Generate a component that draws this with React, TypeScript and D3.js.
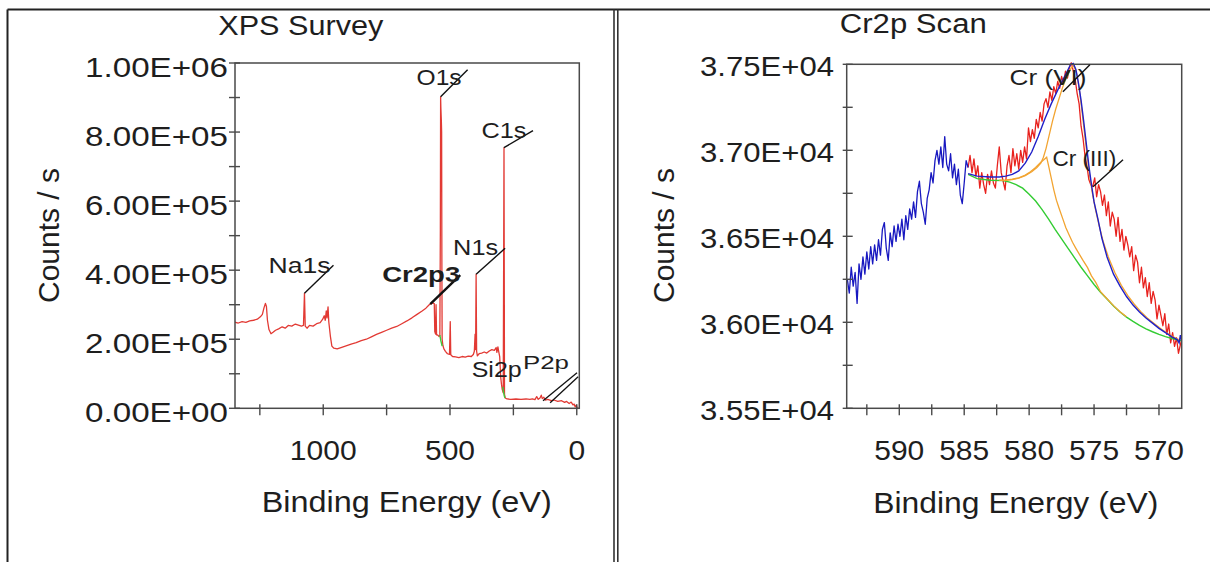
import React from 'react';
import * as d3 from 'd3';

// ---------------- DATA ----------------
// Survey spectrum: [binding energy (eV), counts/s]
const surveySpectrum: [number, number][] = [
  [1352, 250000], [1335, 247000], [1320, 251000], [1305, 249000], [1290, 253000], [1275, 255000],
  [1260, 258000], [1248, 265000], [1240, 272000], [1234, 290000], [1228, 304000], [1224, 295000],
  [1220, 255000], [1214, 228000], [1206, 216000], [1198, 220000], [1188, 226000], [1176, 230000],
  [1162, 236000], [1150, 232000], [1138, 240000], [1124, 238000], [1110, 244000], [1098, 241000],
  [1086, 238000], [1078, 240000], [1074, 333000], [1071, 238000], [1064, 232000], [1054, 240000],
  [1040, 238000], [1026, 245000], [1012, 248000], [1002, 258000], [996, 268000], [992, 255000],
  [988, 282000], [985, 262000], [981, 294000], [978, 250000], [972, 210000], [966, 180000],
  [958, 174000], [945, 172000], [930, 176000], [910, 181000], [890, 186000], [870, 190000],
  [850, 196000], [830, 200000], [810, 207000], [790, 214000], [770, 220000], [750, 226000],
  [730, 232000], [710, 237000], [690, 245000], [670, 253000], [650, 262000], [630, 272000],
  [610, 282000], [595, 290000], [582, 300000], [570, 305000], [562, 303000], [560, 222000],
  [557, 215000], [555, 300000], [553, 213000], [548, 212000], [543, 208000], [540, 210000],
  [538, 520000], [537, 902000], [536, 870000], [535, 850000], [534, 830000], [533, 800000],
  [532, 420000], [531, 200000], [528, 182000], [524, 172000], [518, 165000], [510, 158000],
  [502, 156000], [499, 251000], [497, 155000], [490, 150000], [478, 149000], [465, 147000],
  [452, 150000], [440, 148000], [428, 151000], [416, 150000], [408, 156000], [404, 165000],
  [401, 215000], [399, 170000], [397, 388000], [395, 165000], [392, 152000], [385, 158000],
  [375, 160000], [365, 163000], [355, 160000], [345, 166000], [335, 170000], [325, 168000],
  [318, 176000], [315, 162000], [311, 178000], [308, 165000], [304, 150000], [300, 90000],
  [297, 70000], [294, 55000], [290, 45000], [287, 755000], [285, 40000], [282, 30000],
  [275, 27000], [260, 26000], [240, 27000], [220, 26000], [200, 27000], [185, 26000],
  [175, 27000], [165, 25000], [158, 34000], [152, 26000], [145, 30000], [140, 38000],
  [136, 28000], [130, 32000], [124, 24000], [115, 26000], [100, 22000], [90, 24000],
  [75, 20000], [60, 22000], [48, 17000], [40, 20000], [30, 14000], [22, 18000],
  [15, 10000], [10, 12000], [6, 4000], [2, 9000], [-2, 0], [-8, 0],
];
const surveyBackgroundO1s: [number, number][] = [[540, 212000], [536, 195000], [531, 180000]];
const surveyBackgroundC1s: [number, number][] = [[292, 62000], [289, 48000], [286, 36000], [283, 30000]];

const surveyYTickValues = [0, 200000, 400000, 600000, 800000, 1000000];
const surveyYTickLabels = ['0.00E+00', '2.00E+05', '4.00E+05', '6.00E+05', '8.00E+05', '1.00E+06'];
const surveyXTickValues = [1000, 500, 0];
const surveyXTickLabels = ['1000', '500', '0'];

const surveyPeaks: { label: string; be: number; cps: number }[] = [
  { label: 'Na1s', be: 1074, cps: 333000 },
  { label: 'Cr2p3', be: 578, cps: 302000 },
  { label: 'O1s', be: 537, cps: 902000 },
  { label: 'N1s', be: 397, cps: 388000 },
  { label: 'C1s', be: 287, cps: 755000 },
];

// Cr2p high-resolution scan
const crRawLeft: [number, number][] = [
  [594.0, 36250], [593.85, 36170], [593.7, 36320], [593.55, 36210], [593.4, 36290], [593.25, 36110],
  [593.1, 36340], [592.95, 36250], [592.8, 36380], [592.65, 36280], [592.5, 36410], [592.35, 36310],
  [592.2, 36440], [592.05, 36340], [591.9, 36450], [591.75, 36360], [591.6, 36480], [591.45, 36390],
  [591.3, 36540], [591.15, 36580], [591.0, 36430], [590.85, 36360], [590.7, 36520], [590.55, 36440],
  [590.4, 36560], [590.25, 36470], [590.1, 36570], [589.95, 36500], [589.8, 36600], [589.65, 36480],
  [589.5, 36620], [589.35, 36540], [589.2, 36660], [589.05, 36600], [588.9, 36700], [588.75, 36610],
  [588.6, 36760], [588.45, 36820], [588.3, 36690], [588.15, 36640], [588.0, 36570], [587.85, 36720],
  [587.7, 36770], [587.55, 36870], [587.4, 36810], [587.25, 36940], [587.1, 37000], [586.95, 36920],
  [586.8, 37020], [586.65, 36900], [586.5, 37080], [586.35, 36920], [586.2, 36880], [586.05, 36980],
  [585.9, 36840], [585.75, 36920], [585.6, 36800], [585.45, 36890], [585.3, 36740], [585.15, 36690],
  [585.0, 36810], [584.85, 36940], [584.7, 36900],
];
const crRawRegion: [number, number][] = [
  [584.7, 36900], [584.55, 36970], [584.4, 36870], [584.25, 36950], [584.1, 36850], [583.95, 36910],
  [583.8, 36780], [583.65, 36870], [583.5, 36800], [583.35, 36750], [583.2, 36860], [583.05, 36800],
  [582.9, 36880], [582.75, 36810], [582.6, 36780], [582.45, 36910], [582.3, 37020], [582.15, 36870],
  [582.0, 36820], [581.85, 36770], [581.7, 36910], [581.55, 36970], [581.4, 36870], [581.25, 37010],
  [581.1, 36910], [580.95, 36980], [580.8, 36890], [580.65, 37000], [580.5, 36930], [580.35, 37020],
  [580.2, 36950], [580.05, 37130], [579.9, 37050], [579.75, 37120], [579.6, 37070], [579.45, 37180],
  [579.3, 37130], [579.15, 37220], [579.0, 37170], [578.85, 37270], [578.7, 37300], [578.55, 37250],
  [578.4, 37340], [578.25, 37290], [578.1, 37370], [577.95, 37330], [577.8, 37400], [577.65, 37360],
  [577.5, 37430], [577.35, 37390], [577.2, 37460], [577.05, 37420], [576.9, 37480], [576.75, 37510],
  [576.6, 37460], [576.45, 37410], [576.3, 37330], [576.15, 37270], [576.0, 37140], [575.85, 37070],
  [575.7, 36970], [575.55, 36910], [575.4, 36830], [575.25, 36800], [575.1, 36790], [574.95, 36840],
  [574.8, 36730], [574.65, 36800], [574.5, 36760], [574.35, 36680], [574.2, 36740], [574.05, 36620],
  [573.9, 36700], [573.75, 36560], [573.6, 36640], [573.45, 36600], [573.3, 36500], [573.15, 36610],
  [573.0, 36470], [572.85, 36540], [572.7, 36420], [572.55, 36500], [572.4, 36450], [572.25, 36380],
  [572.1, 36440], [571.95, 36300], [571.8, 36390], [571.65, 36350], [571.5, 36230], [571.35, 36320],
  [571.2, 36200], [571.05, 36260], [570.9, 36150], [570.75, 36230], [570.6, 36110], [570.45, 36180],
  [570.3, 36130], [570.15, 36020], [570.0, 36100], [569.85, 36040], [569.7, 35980], [569.55, 36050],
  [569.4, 35930], [569.25, 35990], [569.1, 35880], [568.95, 35940], [568.8, 35860], [568.65, 35910],
  [568.5, 35820], [568.35, 35870], [568.25, 35900],
];
const crEnvelope: [number, number][] = [
  [584.7, 36864], [584.0, 36850], [583.0, 36845], [582.3, 36845], [581.8, 36850], [581.3, 36860],
  [580.8, 36880], [580.3, 36925], [579.8, 36990], [579.3, 37080], [578.8, 37180], [578.3, 37270],
  [577.8, 37350], [577.3, 37425], [577.0, 37470], [576.8, 37500], [576.6, 37505], [576.4, 37470],
  [576.2, 37390], [576.0, 37290], [575.8, 37170], [575.6, 37040], [575.4, 36910], [575.2, 36800],
  [575.0, 36700], [574.7, 36600], [574.4, 36490], [574.0, 36380], [573.5, 36280], [573.0, 36210],
  [572.5, 36150], [572.0, 36100], [571.5, 36060], [571.0, 36025], [570.5, 35995], [570.0, 35965],
  [569.5, 35940], [569.0, 35915], [568.6, 35900], [568.45, 35880], [568.35, 35925], [568.25, 35890],
];
const crBackground: [number, number][] = [
  [584.7, 36860], [584.0, 36835], [583.0, 36826], [582.0, 36824], [581.5, 36815], [581.0, 36800],
  [580.5, 36780], [580.0, 36745], [579.5, 36705], [579.0, 36655], [578.5, 36600], [578.0, 36540],
  [577.5, 36485], [577.0, 36430], [576.5, 36375], [576.0, 36320], [575.5, 36270], [575.0, 36220],
  [574.5, 36175], [574.0, 36135], [573.5, 36095], [573.0, 36060], [572.5, 36030], [572.0, 36005],
  [571.5, 35982], [571.0, 35962], [570.5, 35945], [570.0, 35930], [569.5, 35917], [569.0, 35906],
  [568.5, 35897], [568.25, 35893],
];
const crComponentIII: [number, number][] = [
  [582.3, 36826], [581.8, 36826], [581.3, 36832], [580.8, 36840], [580.3, 36856], [579.9, 36875],
  [579.5, 36900], [579.1, 36930], [578.8, 36950], [578.65, 36960], [578.5, 36910], [578.3, 36840],
  [578.1, 36770], [577.9, 36710], [577.68, 36660], [577.4, 36600], [577.17, 36550], [576.9, 36505],
  [576.66, 36465], [576.4, 36430], [576.15, 36398], [575.85, 36360], [575.5, 36318], [575.2, 36270],
  [574.87, 36232], [574.5, 36178], [574.0, 36137], [573.5, 36097], [573.0, 36062], [572.5, 36032],
];
const crComponentVI: [number, number][] = [
  [581.8, 36826], [581.3, 36830], [580.8, 36838], [580.3, 36852], [579.8, 36875], [579.4, 36900],
  [579.1, 36925], [578.9, 36960], [578.7, 37010], [578.45, 37090], [578.2, 37170], [577.95, 37240],
  [577.7, 37300], [577.45, 37360], [577.2, 37410], [576.95, 37450], [576.75, 37480], [576.55, 37490],
  [576.35, 37450], [576.15, 37360], [575.95, 37240], [575.75, 37110], [575.55, 36980], [575.35, 36860],
  [575.15, 36760], [574.9, 36660], [574.6, 36560], [574.3, 36470], [573.9, 36380], [573.4, 36290],
  [572.9, 36215], [572.4, 36155], [571.9, 36105], [571.4, 36062], [570.9, 36025], [570.4, 35995],
  [569.9, 35965], [569.4, 35938], [568.9, 35915], [568.4, 35897],
];

const crYTickValues = [35500, 36000, 36500, 37000, 37500];
const crYTickLabels = ['3.55E+04', '3.60E+04', '3.65E+04', '3.70E+04', '3.75E+04'];
const crXTickValues = [590, 585, 580, 575, 570];
const crXTickLabels = ['590', '585', '580', '575', '570'];

const crPeaks: { label: string; be: number; cps: number }[] = [
  { label: 'Cr (VI)', be: 577.4, cps: 37340 },
  { label: 'Cr (III)', be: 575.08, cps: 36788 },
];

// ---------------- LAYOUT / STYLE ----------------
const FONT = '"Liberation Sans", Arial, Helvetica, sans-serif';
const TXT = '#1e1e1e';
const AX = '#4a4a4a';

const SV = { left: 235, right: 579.3, top: 63, bottom: 408.3 };
const CR = { left: 846.7, right: 1181.7, top: 64.3, bottom: 408.3 };

const surveyLabelLayout: Record<string, { dx: number; dy: number; tx: number; ty: number; len: number; bold?: boolean }> = {
  Na1s: { dx: 29, dy: -28, tx: -3, ty: 8, len: 62 },
  Cr2p3: { dx: 30, dy: -29, tx: 0, ty: 7, len: 78, bold: true },
  O1s: { dx: 27, dy: -27, tx: -6, ty: 15, len: 45 },
  N1s: { dx: 29, dy: -26, tx: -7, ty: 7, len: 45 },
  C1s: { dx: 29, dy: -17, tx: -6.6, ty: 7.6, len: 45 },
};
const crLabelLayout: Record<string, { dx: number; dy: number; tx: number; ty: number; len: number }> = {
  'Cr (VI)': { dx: 27, dy: -27, tx: -3.3, ty: 20, len: 77 },
  'Cr (III)': { dx: 30, dy: -27, tx: -6.6, ty: 6.7, len: 64 },
};

function Txt(props: {
  x: number; y: number; size: number; anchor?: string; len?: number; rotate?: boolean;
  weight?: string | number; children: React.ReactNode; fill?: string;
}) {
  const { x, y, size, anchor = 'start', len, rotate, weight, children, fill = TXT } = props;
  return (
    <text
      x={x}
      y={y}
      fontSize={size}
      fontFamily={FONT}
      textAnchor={anchor as any}
      fill={fill}
      fontWeight={weight as any}
      textLength={len}
      lengthAdjust={len ? 'spacingAndGlyphs' : undefined}
      transform={rotate ? `rotate(-90, ${x}, ${y})` : undefined}
    >
      {children}
    </text>
  );
}

export default function App() {
  const xS = d3.scaleLinear().domain([1348, -10]).range([SV.left, SV.right]);
  const yS = d3.scaleLinear().domain([0, 1000000]).range([SV.bottom, SV.top]);
  const xC = d3.scaleLinear().domain([594.05, 568.25]).range([CR.left, CR.right]);
  const yC = d3.scaleLinear().domain([35500, 37500]).range([CR.bottom, CR.top]);

  const lineS = d3.line<[number, number]>().x((d) => xS(d[0])).y((d) => yS(d[1]));
  const lineC = d3.line<[number, number]>().x((d) => xC(d[0])).y((d) => yC(d[1]));

  const svYMinor = d3.range(0, 1000001, 100000);
  const svXMinor = d3.range(0, 1349, 250);
  const crYMinor = d3.range(35500, 37501, 250);
  const crXMinor = d3.range(570, 594, 2.5);

  return (
    <svg
      width={1210}
      height={562}
      viewBox="0 0 1210 562"
      style={{ position: 'absolute', left: 0, top: 0, background: '#fff' }}
    >
      <rect x={0} y={0} width={1210} height={562} fill="#fff" />
      <defs>
        <clipPath id="clipSV">
          <rect x={SV.left} y={SV.top - 2} width={SV.right - SV.left} height={SV.bottom - SV.top + 2} />
        </clipPath>
        <clipPath id="clipCR">
          <rect x={CR.left} y={CR.top - 2} width={CR.right - CR.left} height={CR.bottom - CR.top + 2} />
        </clipPath>
      </defs>

      {/* outer frame */}
      <line x1={7.5} y1={9.5} x2={1210} y2={9.5} stroke="#222" strokeWidth={2} />
      <line x1={7.5} y1={9.5} x2={7.5} y2={562} stroke="#222" strokeWidth={2} />
      <line x1={614} y1={9.5} x2={614} y2={562} stroke="#333" strokeWidth={1.6} />
      <line x1={617.8} y1={9.5} x2={617.8} y2={562} stroke="#333" strokeWidth={1.6} />

      {/* ---------- Survey panel ---------- */}
      <Txt x={300.8} y={35} size={27} anchor="middle" len={165}>XPS Survey</Txt>

      <g clipPath="url(#clipSV)">
        <path d={lineS(surveySpectrum) || ''} fill="none" stroke="#e23a34" strokeWidth={1.3} strokeLinejoin="round" />
        <path d={lineS(surveyBackgroundO1s) || ''} fill="none" stroke="#3ccc3c" strokeWidth={1.4} />
        <path d={lineS(surveyBackgroundC1s) || ''} fill="none" stroke="#3ccc3c" strokeWidth={1.4} />
      </g>

      <rect x={SV.left} y={SV.top} width={SV.right - SV.left} height={SV.bottom - SV.top} fill="none" stroke={AX} strokeWidth={1.5} />
      {svYMinor.map((v) => (
        <line key={'sy' + v} x1={SV.left - 6} x2={SV.left + 5} y1={yS(v)} y2={yS(v)} stroke={AX} strokeWidth={1.4} />
      ))}
      {svXMinor.map((v) => (
        <line key={'sx' + v} x1={xS(v)} x2={xS(v)} y1={SV.bottom - 4} y2={SV.bottom + 7} stroke={AX} strokeWidth={1.4} />
      ))}
      {surveyYTickValues.map((v, i) => (
        <Txt key={'syl' + v} x={228} y={yS(v) + 13.5} size={28} anchor="end" len={143}>{surveyYTickLabels[i]}</Txt>
      ))}
      {surveyXTickValues.map((v, i) => (
        <Txt key={'sxl' + v} x={xS(v)} y={460} size={28} anchor="middle" len={surveyXTickLabels[i].length * 16.7}>
          {surveyXTickLabels[i]}
        </Txt>
      ))}
      <Txt x={406.7} y={511.7} size={29} anchor="middle" len={290}>Binding Energy (eV)</Txt>
      <Txt x={59} y={235.5} size={29} anchor="middle" len={135} rotate>Counts / s</Txt>

      {/* survey annotations */}
      {surveyPeaks.map((p) => {
        const L = surveyLabelLayout[p.label];
        const x0 = xS(p.be);
        const y0 = yS(p.cps);
        const x1 = x0 + L.dx;
        const y1 = y0 + L.dy;
        return (
          <g key={p.label}>
            <line x1={x0} y1={y0} x2={x1} y2={y1} stroke="#111" strokeWidth={L.bold ? 2.4 : 1.4} />
            <Txt x={x1 + L.tx} y={y1 + L.ty} size={22} anchor="end" len={L.len} weight={L.bold ? 'bold' : undefined}>{p.label}</Txt>
          </g>
        );
      })}
      {/* Si2p / P2p labels near the baseline */}
      <Txt x={471.7} y={377} size={22} len={50}>Si2p</Txt>
      <Txt x={523} y={369} size={19} len={46}>P2p</Txt>
      <line x1={xS(133)} y1={yS(22000)} x2={xS(133) + 34} y2={yS(22000) - 28} stroke="#111" strokeWidth={1.3} />
      <line x1={xS(105)} y1={yS(16000)} x2={xS(105) + 28} y2={yS(16000) - 26} stroke="#111" strokeWidth={1.3} />

      {/* ---------- Cr2p panel ---------- */}
      <Txt x={913.3} y={33.3} size={27} anchor="middle" len={147}>Cr2p Scan</Txt>

      <g clipPath="url(#clipCR)">
        <path d={lineC(crRawRegion) || ''} fill="none" stroke="#e8221e" strokeWidth={1.3} strokeLinejoin="round" />
        <path d={lineC(crBackground) || ''} fill="none" stroke="#33cc33" strokeWidth={1.4} />
        <path d={lineC(crComponentIII) || ''} fill="none" stroke="#f2a431" strokeWidth={1.3} />
        <path d={lineC(crComponentVI) || ''} fill="none" stroke="#f2a431" strokeWidth={1.3} />
        <path d={lineC(crEnvelope) || ''} fill="none" stroke="#2020c8" strokeWidth={1.4} />
        <path d={lineC(crRawLeft) || ''} fill="none" stroke="#1818c0" strokeWidth={1.3} strokeLinejoin="round" />
      </g>

      <rect x={CR.left} y={CR.top} width={CR.right - CR.left} height={CR.bottom - CR.top} fill="none" stroke={AX} strokeWidth={1.5} />
      {crYMinor.map((v) => (
        <line key={'cy' + v} x1={CR.left - 4} x2={CR.left + 6} y1={yC(v)} y2={yC(v)} stroke={AX} strokeWidth={1.4} />
      ))}
      {crXMinor.map((v) => (
        <line key={'cx' + v} x1={xC(v)} x2={xC(v)} y1={CR.bottom - 4} y2={CR.bottom + 7} stroke={AX} strokeWidth={1.4} />
      ))}
      {crYTickValues.map((v, i) => (
        <Txt key={'cyl' + v} x={834} y={yC(v) + 12} size={28} anchor="end" len={134}>{crYTickLabels[i]}</Txt>
      ))}
      {crXTickValues.map((v, i) => (
        <Txt key={'cxl' + v} x={xC(v)} y={460} size={28} anchor="middle" len={50}>{crXTickLabels[i]}</Txt>
      ))}
      <Txt x={1015.8} y={513.3} size={29} anchor="middle" len={285}>Binding Energy (eV)</Txt>
      <Txt x={674} y={235.5} size={29} anchor="middle" len={135} rotate>Counts / s</Txt>

      {crPeaks.map((p) => {
        const L = crLabelLayout[p.label];
        const x0 = xC(p.be);
        const y0 = yC(p.cps);
        const x1 = x0 + L.dx;
        const y1 = y0 + L.dy;
        return (
          <g key={p.label}>
            <Txt x={x1 + L.tx} y={y1 + L.ty} size={22} anchor="end" len={L.len}>{p.label}</Txt>
            <line x1={x0} y1={y0} x2={x1} y2={y1} stroke="#111" strokeWidth={1.4} />
          </g>
        );
      })}
    </svg>
  );
}
